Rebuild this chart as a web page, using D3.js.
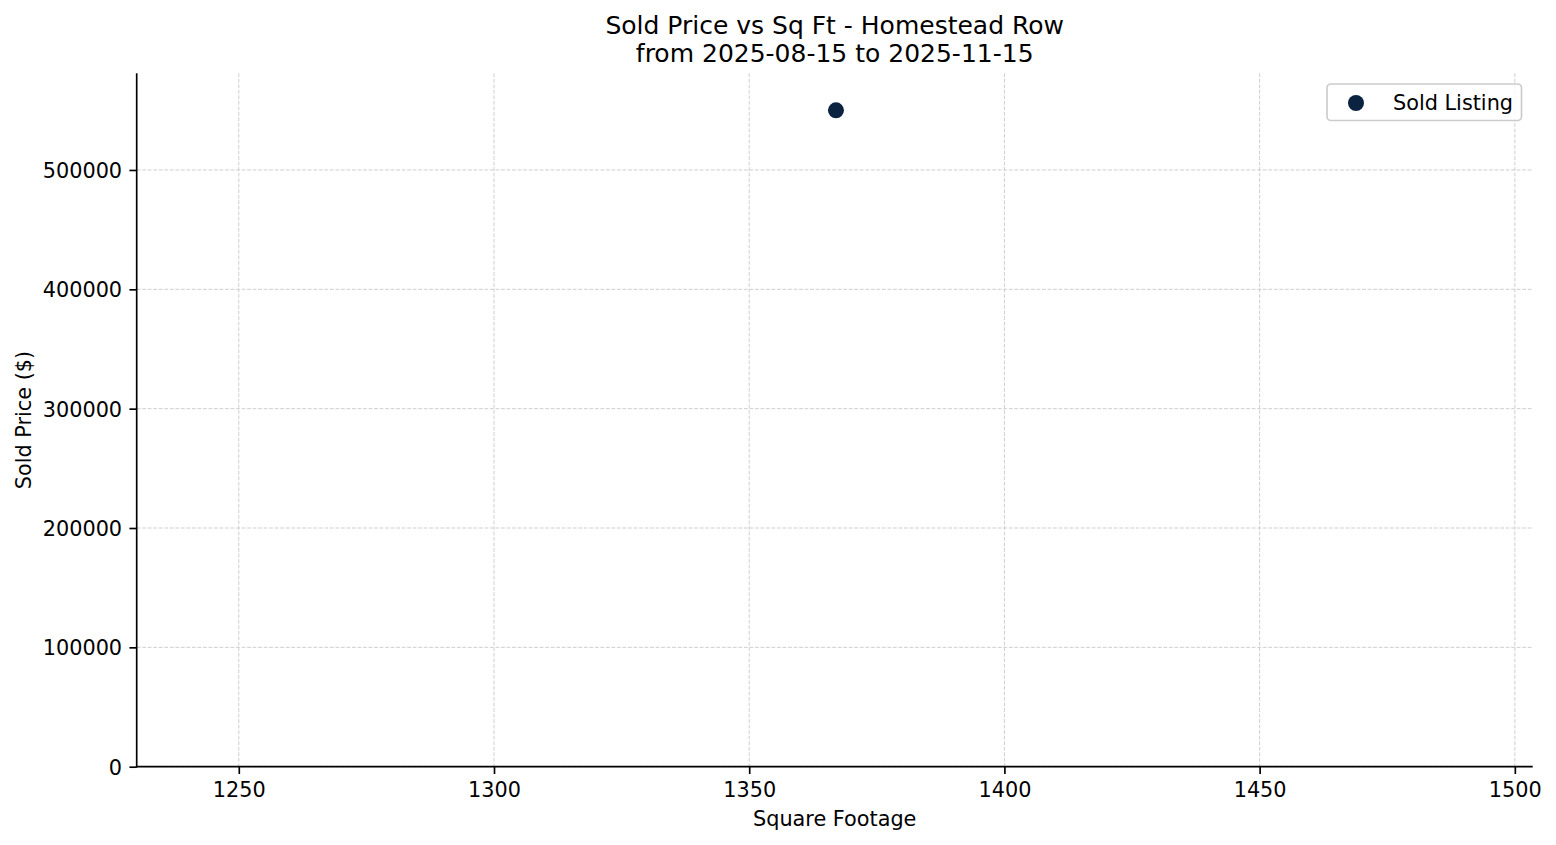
<!DOCTYPE html>
<html>
<head>
<meta charset="utf-8">
<script src="https://cdn.jsdelivr.net/npm/d3@7"></script>
<style>
  html, body { margin: 0; padding: 0; background: #ffffff; }
  svg { display: block; }
  text { font-family: "DejaVu Sans", sans-serif; fill: #000; }
</style>
</head>
<body>
<svg id="chart" width="1556" height="845"></svg>
<script>
// ---- data ----
const titleLines = ["Sold Price vs Sq Ft - Homestead Row", "from 2025-08-15 to 2025-11-15"];
const seriesName = "Sold Listing";
const sqft = [1367];
const soldPrice = [550000];
const xTicks = [1250, 1300, 1350, 1400, 1450, 1500];
const yTicks = [0, 100000, 200000, 300000, 400000, 500000];
const xDomain = [1230, 1503.5];
const yDomain = [0, 581000];
const xLabel = "Square Footage";
const yLabel = "Sold Price ($)";

const points = sqft.map((s, i) => ({ x: s, y: soldPrice[i] }));

// ---- layout ----
const L = 136.7, R = 1532.7, T = 73.3, B = 766.7;
const color = "#0b2341";
const FS = 20.8;

const svg = d3.select("#chart");
const x = d3.scaleLinear().domain(xDomain).range([L, R]);
const y = d3.scaleLinear().domain(yDomain).range([B, T]);

// grid
const grid = svg.append("g");
grid.selectAll("line.gx").data(xTicks).join("line")
  .attr("x1", d => x(d)).attr("x2", d => x(d))
  .attr("y1", T).attr("y2", B)
  .attr("stroke", "#cfcfcf").attr("stroke-width", 1)
  .attr("stroke-dasharray", "3.85,1.67");
grid.selectAll("line.gy").data(yTicks).join("line")
  .attr("x1", L).attr("x2", R)
  .attr("y1", d => y(d)).attr("y2", d => y(d))
  .attr("stroke", "#cfcfcf").attr("stroke-width", 1)
  .attr("stroke-dasharray", "3.85,1.67");

// axes
const xAxis = d3.axisBottom(x).tickValues(xTicks).tickFormat(d3.format("d"))
  .tickSize(7.3).tickPadding(7.3);
const yAxis = d3.axisLeft(y).tickValues(yTicks).tickFormat(d3.format("d"))
  .tickSize(7.3).tickPadding(7.3);

const gx = svg.append("g").attr("transform", `translate(0,${B})`).call(xAxis);
const gy = svg.append("g").attr("transform", `translate(${L},0)`).call(yAxis);
[gx, gy].forEach(g => {
  g.select(".domain").remove();
  g.selectAll(".tick line").attr("stroke", "#000").attr("stroke-width", 1.67);
  g.selectAll(".tick text").attr("font-size", FS).attr("font-family", "DejaVu Sans").attr("fill", "#000");
});
gx.selectAll(".tick text").attr("dy", null).attr("y", 30.5);
gy.selectAll(".tick text").attr("dy", "0.36em");

// spines (left and bottom)
svg.append("line").attr("x1", L).attr("x2", L).attr("y1", T).attr("y2", B + 0.8)
  .attr("stroke", "#000").attr("stroke-width", 1.67);
svg.append("line").attr("x1", L - 0.8).attr("x2", R).attr("y1", B).attr("y2", B)
  .attr("stroke", "#000").attr("stroke-width", 1.67);

// points
svg.append("g").selectAll("circle").data(points).join("circle")
  .attr("cx", d => x(d.x)).attr("cy", d => y(d.y)).attr("r", 8)
  .attr("fill", color);

// title
svg.append("text").attr("x", (L + R) / 2).attr("y", 34).attr("text-anchor", "middle")
  .attr("font-size", 25).text(titleLines[0]);
svg.append("text").attr("x", (L + R) / 2).attr("y", 62).attr("text-anchor", "middle")
  .attr("font-size", 25).text(titleLines[1]);

// axis labels
svg.append("text").attr("x", (L + R) / 2).attr("y", 826).attr("text-anchor", "middle")
  .attr("font-size", FS).text(xLabel);
svg.append("text").attr("transform", `translate(31,${(T + B) / 2}) rotate(-90)`)
  .attr("text-anchor", "middle").attr("font-size", FS).text(yLabel);

// legend
const lg = svg.append("g");
lg.append("rect").attr("x", 1327).attr("y", 84).attr("width", 194.5).attr("height", 36.5)
  .attr("rx", 4).attr("fill", "#fff").attr("fill-opacity", 0.8)
  .attr("stroke", "#cccccc").attr("stroke-width", 1.67);
lg.append("circle").attr("cx", 1356).attr("cy", 103).attr("r", 8).attr("fill", color);
lg.append("text").attr("x", 1393).attr("y", 109.5).attr("font-size", FS).text(seriesName);
</script>
</body>
</html>
